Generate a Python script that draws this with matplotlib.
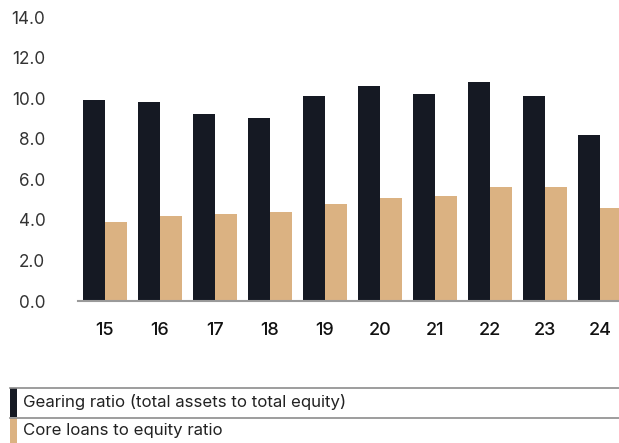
import matplotlib
matplotlib.use('Agg')
import matplotlib.pyplot as plt
import numpy as np
from matplotlib.patches import Rectangle
from matplotlib.lines import Line2D

plt.rcParams['font.family'] = ['Inter', 'DejaVu Sans']

# Data
years = ['15', '16', '17', '18', '19', '20', '21', '22', '23', '24']
gearing = [9.9, 9.8, 9.2, 9.0, 10.1, 10.6, 10.2, 10.8, 10.1, 8.2]
core_loans = [3.9, 4.2, 4.3, 4.4, 4.8, 5.1, 5.2, 5.6, 5.6, 4.6]
series_labels = ['Gearing ratio (total assets to total equity)',
                 'Core loans to equity ratio']
colors = ['#151923', '#dbb282']
y_ticks = [0, 2, 4, 6, 8, 10, 12, 14]

W, H = 619, 443
fig = plt.figure(figsize=(W / 100, H / 100), dpi=100)
ax = fig.add_axes([78 / W, 1 - 301 / H, 1 - 78 / W, (301 - 17) / H])

x = np.arange(len(years))
bw = 0.4
ax.bar(x - bw / 2, gearing, width=bw, color=colors[0])
ax.bar(x + bw / 2, core_loans, width=bw, color=colors[1])

ax.set_xlim(-0.49, 9.345)
ax.set_ylim(0, 14)
ax.set_yticks(y_ticks)
ax.set_yticklabels([f'{v:.1f}' for v in y_ticks], fontsize=12.3, color='#333333')
ax.set_xticks(x)
ax.set_xticklabels(years, fontsize=13, fontweight='medium', color='#111111')
ax.tick_params(axis='y', length=0, pad=23.5)
ax.tick_params(axis='x', length=0, pad=15)

for s in ['top', 'right', 'left']:
    ax.spines[s].set_visible(False)
ax.spines['bottom'].set_color('#9a9a9a')
ax.spines['bottom'].set_linewidth(1.5)

# Legend as a table below the chart
rows = [(388, 417), (418, 443)]
for (top, bot), lab, col in zip(rows, series_labels, colors):
    fig.add_artist(Line2D([10 / W, 1], [1 - top / H, 1 - top / H],
                          transform=fig.transFigure, color='#8c8c8c', lw=1.2))
    fig.add_artist(Rectangle((10 / W, 1 - bot / H), 7 / W, (bot - top) / H,
                             transform=fig.transFigure, color=col, lw=0))
    fig.text(23 / W, 1 - (top + bot) / 2 / H, lab, fontsize=12.1,
             color='#222222', va='center', ha='left')

fig.savefig('out.png', dpi=100)
